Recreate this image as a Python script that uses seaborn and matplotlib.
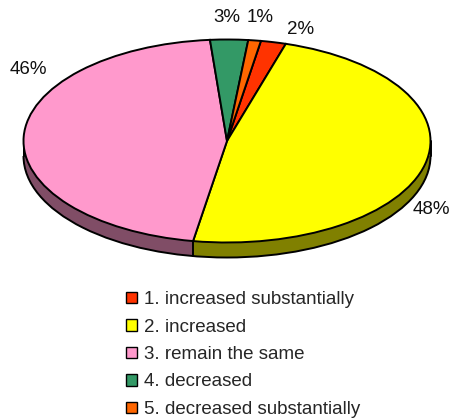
import numpy as np
import matplotlib
matplotlib.use("Agg")
import matplotlib.pyplot as plt
from matplotlib.patches import Arc
import seaborn as sns

# ---- data ----
categories = ["1. increased substantially", "2. increased", "3. remain the same",
              "4. decreased", "5. decreased substantially"]
values = [2, 48, 46, 3, 1]
pct_labels = ["2%", "48%", "46%", "3%", "1%"]

# ---- styles ----
top_colors = ["#FF3300", "#FFFF00", "#FF99CC", "#339966", "#FF6600"]
side_colors = ["#801A00", "#808000", "#804D66", "#1A4D33", "#803300"]
# label positions (pie units, x then y in unsquashed circle coords)
label_pos = [(0.36, 1.10), (1.005, -0.67), (-0.975, 0.70), (0.0, 1.217), (0.162, 1.217)]

sns.set_theme(style="white")
plt.rcParams["font.family"] = ["Liberation Sans", "DejaVu Sans"]

W, H = 450, 420
fig = plt.figure(figsize=(W / 100, H / 100), dpi=100)
fig.patch.set_facecolor("white")

# pie axes occupying the top 280 px; x: 203.5 px / unit, y: 101.5 px / unit
cx, cy, sx, sy, top_h = 227, 141, 203.5, 101.5, 280
ax = fig.add_axes([0, (H - top_h) / H, 1, top_h / H])
depth = 15 / sy
start = 80.4

# side (depth) layers
for d in np.linspace(depth, 0.0, 40):
    ax.pie(values, colors=side_colors, startangle=start, counterclock=False,
           center=(0, -d), radius=1.0,
           wedgeprops=dict(edgecolor="none", linewidth=0, antialiased=True))

# bottom outline and vertical edges
ax.add_patch(Arc((0, -depth), 2, 2, theta1=180, theta2=360, color="black", lw=1.4, zorder=5))
for s in (-1, 1):
    ax.plot([s, s], [0, -depth], color="black", lw=1.4, zorder=5)

# top surface
wedges, _ = ax.pie(values, colors=top_colors, startangle=start, counterclock=False,
                   radius=1.0, wedgeprops=dict(edgecolor="black", linewidth=1.4))
for w in wedges:
    w.set_zorder(6)

# vertical lines at front slice boundaries
for w in wedges:
    t = np.deg2rad(w.theta1)
    if np.sin(t) < 0:
        x, y = np.cos(t), np.sin(t)
        ax.plot([x, x], [y, y - depth], color="black", lw=1.4, zorder=5)

for (lx, ly), txt in zip(label_pos, pct_labels):
    ax.text(lx, ly, txt, ha="center", va="center", fontsize=13.5, color="#111111")

ax.set_aspect("auto")
ax.set_xlim(-cx / sx, (W - cx) / sx)
ax.set_ylim(-(top_h - cy) / sy, cy / sy)
ax.axis("off")

leg = fig.legend(wedges, categories, loc="upper left",
                 bbox_to_anchor=(126 / W, 1 - 291 / H), frameon=False,
                 fontsize=13.5, handlelength=0.58, handleheight=0.58,
                 handletextpad=0.4, labelspacing=0.56, borderpad=0, borderaxespad=0)
for h in leg.legend_handles:
    h.set_edgecolor("black")
    h.set_linewidth(1.0)

fig.savefig("out.png", dpi=100, facecolor="white")
